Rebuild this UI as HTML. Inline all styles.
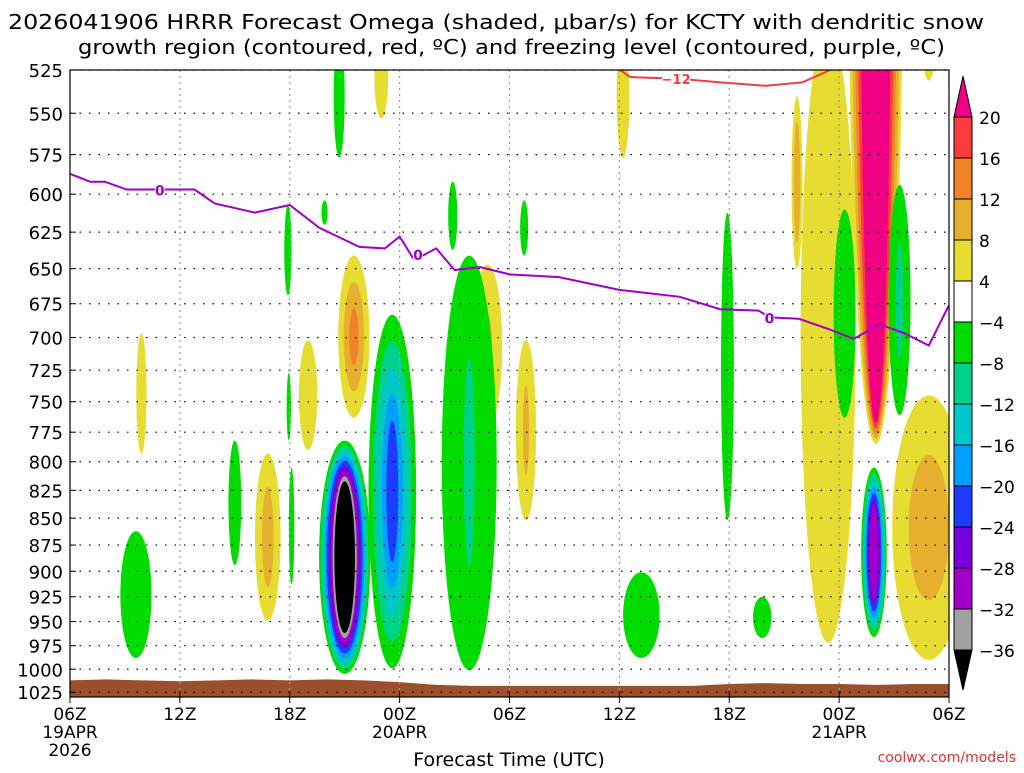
<!DOCTYPE html>
<html><head><meta charset="utf-8"><style>
html,body{margin:0;padding:0;background:#fff;}
svg text{font-family:"DejaVu Sans","Liberation Sans",sans-serif;}
</style></head><body>
<svg id="chart" width="1024" height="768" viewBox="0 0 1024 768" xmlns="http://www.w3.org/2000/svg">
<defs><clipPath id="plotclip"><rect x="70" y="70" width="879" height="627"/></clipPath></defs>
<text x="8" y="29" font-size="20" textLength="976" lengthAdjust="spacingAndGlyphs">2026041906 HRRR Forecast Omega (shaded, μbar/s) for KCTY with dendritic snow</text>
<text x="78" y="54" font-size="20" textLength="867" lengthAdjust="spacingAndGlyphs">growth region (contoured, red, ºC) and freezing level (contoured, purple, ºC)</text>
<g id="plot" clip-path="url(#plotclip)"></g>
<g id="grid"></g>
<g id="lines" clip-path="url(#plotclip)"></g>
<rect x="70" y="70" width="879" height="627" fill="none" stroke="#000" stroke-width="1.2"/>
<g id="axes"></g>
<g id="cbar"></g>
<text x="509" y="766" font-size="19" text-anchor="middle">Forecast Time (UTC)</text>
<text x="1016" y="762" font-size="14" fill="#e03030" text-anchor="end">coolwx.com/models</text>
</svg>
<script>
const pTicks=[525,550,575,600,625,650,675,700,725,750,775,800,825,850,875,900,925,950,975,1000,1025];
const xTickHours=[0,6,12,18,24,30,36,42,48];
const xTickLabels=["06Z","12Z","18Z","00Z","06Z","12Z","18Z","00Z","06Z"];
const xDateLabels=[["19APR","2026"],[],[],["20APR"],[],[],[],["21APR"],[]];
const cbarLabels=[20,16,12,8,4,-4,-8,-12,-16,-20,-24,-28,-32,-36];
const blobHour=[41.4,39.7,44.0,46.9,3.9,17.0,15.5,13.0,10.8,22.8,24.9,30.2,46.9,
  3.6,14.7,11.9,9.0,11.95,12.1,13.9,15.0,17.6,21.8,20.9,24.8,31.2,37.8,35.9,42.3,45.3,43.9];
const blobHalfW=[1.5,0.3,1.5,2.0,0.28,0.38,0.85,0.5,0.7,0.8,0.55,0.35,0.3,
  0.85,0.3,0.2,0.35,0.12,0.15,0.17,1.4,1.3,1.5,0.25,0.22,1.0,0.5,0.35,0.6,0.6,0.7];
const blobPTop=[500,540,250,745,697,505,641,702,793,647,702,505,505,
  862,505,607,782,727,805,604,782,683,641,592,604,901,925,612,610,594,805];
const blobPBot=[972,650,785,990,793,553,763,790,949,771,852,577,531,
  988,577,669,894,782,913,620,1005,999,1001,637,641,988,967,852,763,761,966];
const blobLevel=[1,2,5,2,1,1,3,1,2,2,2,1,1,
  -1,-1,-1,-1,-1,-1,-1,-9,-5,-2,-1,-1,-1,-1,-1,-1,-2,-7];
const blobCoreX=[1,0.6,0.55,0.55,1,1,0.3,1,0.45,0.3,0.3,1,1,
  1,1,1,1,1,1,1,0.4,0.25,0.2,1,1,1,1,1,1,0.35,0.35];
const blobCoreY=[1,0.7,0.96,0.55,1,1,0.35,1,0.6,0.4,0.5,1,1,
  1,1,1,1,1,1,1,0.65,0.4,0.5,1,1,1,1,1,1,0.5,0.55];
const frzHour=[0,1.1,1.9,3.1,4.9,6.8,7.9,10.1,12,13.6,15.8,17.2,18,18.8,20,21,22.4,24,26.7,30,33.3,35.5,37.6,38.2,39.8,41.5,42.8,44.2,45.6,46.9,48];
const frzP=[587,592,592,597,597,597,606,612,607,622,635,636,628,644,636,651,649,654,656,665,670,679,680,685,686,694,701,690,697,706,676];
const dgzHour=[29.9,30.6,33.3,35.5,38,40,41.3,41.9];
const dgzP=[524,529,530,532,534,532,526,523];
const sfcHour=[0,2,4,6,8,10,12,14,16,18,20,22,24,26,28,30,32,34,36,38,40,42,44,46,48];
const sfcP=[1012,1011,1012,1013,1012,1011,1012,1011,1012,1014,1017,1018,1018,1018,1018,1018,1018,1018,1016,1015,1016,1016,1017,1016,1016];
const posColors=["#e6dc32","#e6af2d","#f08228","#fa3c3c","#f00082"];
const negColors=["#00dc00","#00d28c","#00c8c8","#00a0ff","#1e3cff","#7800dc","#a000c8","#a0a0a0","#000000"];
const NS="http://www.w3.org/2000/svg";
const X=h=>70+h*(879/48);
const Y=p=>70+930*Math.log(p/525);
function mk(tag,attrs,parent){const e=document.createElementNS(NS,tag);for(const k in attrs)e.setAttribute(k,attrs[k]);parent.appendChild(e);return e;}
const plot=document.getElementById('plot');
for(let i=0;i<blobHour.length;i++){
  const n=Math.abs(blobLevel[i]);const cols=blobLevel[i]>0?posColors:negColors;
  const cx=X(blobHour[i]);const y1=Y(blobPTop[i]),y2=Y(blobPBot[i]);
  const rx0=blobHalfW[i]*879/48, ry0=(y2-y1)/2;
  for(let k=0;k<n;k++){
    const t=n>1?k/(n-1):0;
    const sx=1-t*(1-blobCoreX[i]), sy=1-t*(1-blobCoreY[i]);
    const e=mk('ellipse',{cx:cx,cy:(y1+y2)/2,rx:rx0*sx,ry:ry0*sy,fill:cols[k]},plot);
    
    
  }
}
let d="M"+X(sfcHour[0])+","+697;
for(let i=0;i<sfcHour.length;i++)d+=" L"+X(sfcHour[i])+","+Y(sfcP[i]);
d+=" L"+X(sfcHour[sfcHour.length-1])+",697 Z";
const ter=mk('path',{d:d,fill:"#9b4f2a"},plot);


const grid=document.getElementById('grid');
pTicks.forEach(p=>{const l=mk('line',{x1:70,x2:949,y1:Y(p),y2:Y(p),stroke:"#000","stroke-width":1.2,"stroke-dasharray":"1.5,8"},grid);
  
  });
xTickHours.slice(1,-1).forEach(h=>{const l=mk('line',{x1:X(h),x2:X(h),y1:70,y2:697,stroke:"#999","stroke-width":1.2,"stroke-dasharray":"2,4"},grid);
  
  });
const lines=document.getElementById('lines');
let fd="";frzHour.forEach((h,i)=>fd+=(i?" L":"M")+X(h)+","+Y(frzP[i]));
const fl=mk('path',{d:fd,fill:"none",stroke:"#a000c8","stroke-width":2},lines);


let dd="";dgzHour.forEach((h,i)=>dd+=(i?" L":"M")+X(h)+","+Y(dgzP[i]));
const dl=mk('path',{d:dd,fill:"none",stroke:"#f03c3c","stroke-width":2},lines);


[[4.9,597],[19,640],[38.2,685]].forEach(([h,p])=>{
  mk('rect',{x:X(h)-5,y:Y(p)-8,width:10,height:15,fill:"#fff",opacity:0.9},lines);
  const t=mk('text',{x:X(h),y:Y(p)+6,"font-size":14,"font-weight":"bold",fill:"#a000c8","text-anchor":"middle"},lines);t.textContent="0";
  
  
});
mk('rect',{x:X(33.1)-14,y:Y(530)-7,width:28,height:13,fill:"#fff"},lines);
const tl=mk('text',{x:X(33.1),y:Y(530)+5,"font-size":13,"font-weight":"bold",fill:"#f03c3c","text-anchor":"middle"},lines);tl.textContent="−12";


const axes=document.getElementById('axes');
pTicks.forEach(p=>{const t=mk('text',{x:63,y:Y(p)+7,"font-size":18,"text-anchor":"end"},axes);t.textContent=p;
  
  
  mk('line',{x1:70,x2:76,y1:Y(p),y2:Y(p),stroke:"#000"},axes);});
xTickHours.forEach((h,i)=>{
  mk('line',{x1:X(h),x2:X(h),y1:691,y2:703,stroke:"#000"},axes);
  const t=mk('text',{x:X(h),y:720,"font-size":17,"text-anchor":"middle"},axes);t.textContent=xTickLabels[i];
  
  
  xDateLabels[i].forEach((s,j)=>{const u=mk('text',{x:X(h),y:738+j*18,"font-size":17,"text-anchor":"middle"},axes);u.textContent=s;
    
    });
});
const cb=document.getElementById('cbar');
const cbCols=posColors.slice(0,4).reverse().concat(["#ffffff"]).concat(negColors.slice(0,8));
const cbTop=117,cbBot=650,bh=(cbBot-cbTop)/cbCols.length;
const tri1=mk('polygon',{points:"954,"+cbTop+" 972,"+cbTop+" 963,76",fill:"#f00082",stroke:"#000"},cb);


cbCols.forEach((c,i)=>{const r=mk('rect',{x:954,y:cbTop+i*bh,width:18,height:bh,fill:c,stroke:"#000","stroke-width":1},cb);
  
  });
const tri2=mk('polygon',{points:"954,"+cbBot+" 972,"+cbBot+" 963,690",fill:"#000",stroke:"#000"},cb);


cbarLabels.forEach((v,i)=>{const t=mk('text',{x:979,y:cbTop+i*bh+7,"font-size":17},cb);t.textContent=v<0?"−"+(-v):v;
  
  });
</script>
</body></html>
